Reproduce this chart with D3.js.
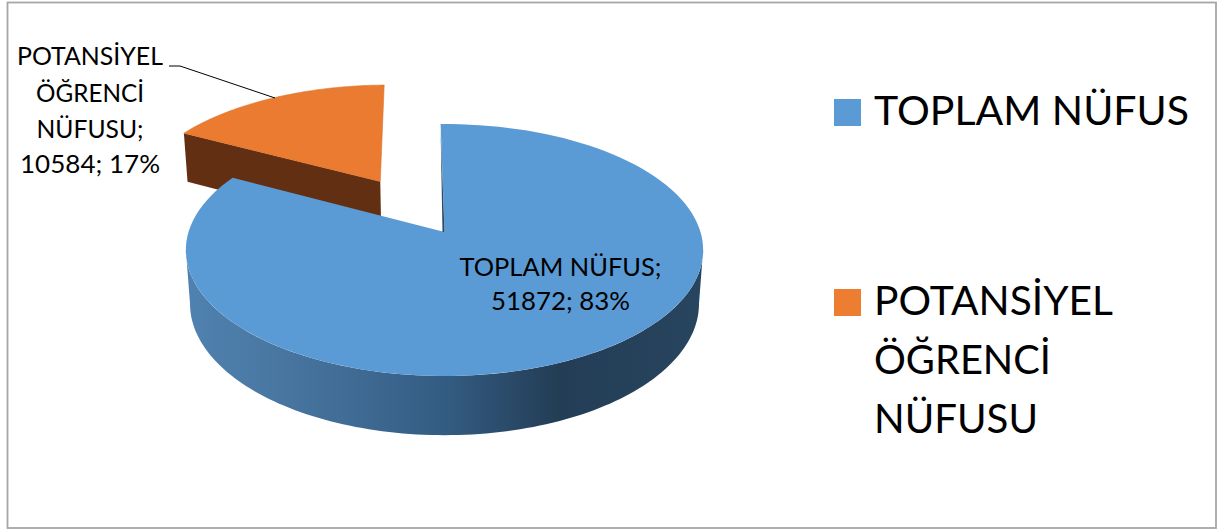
<!DOCTYPE html>
<html><head><meta charset="utf-8">
<script src="https://cdn.jsdelivr.net/npm/d3@7"></script>
<style>html,body{margin:0;padding:0;background:#fff}svg{display:block}text{font-family:Lato,"Open Sans",sans-serif;fill:#000}</style>
</head><body><svg id="c" width="1217" height="529"></svg>
<script>
const categories = ["TOPLAM NÜFUS", "POTANSİYEL ÖĞRENCİ NÜFUSU"];
const values = [51872, 10584];
const percents = [83, 17];
const colors = ["#5b9bd5", "#ed7d31"];
const sideStops = [[0,"#5082b0"],[0.2,"#47759f"],[0.5,"#345c83"],[0.72,"#233d55"],[1,"#28455f"]];
const legendLines = [["TOPLAM NÜFUS"], ["POTANSİYEL","ÖĞRENCİ","NÜFUSU"]];
const calloutLines = ["POTANSİYEL","ÖĞRENCİ","NÜFUSU;","10584; 17%"];
const insideLines = ["TOPLAM NÜFUS;","51872; 83%"];

const svg = d3.select("#c");
svg.append("rect").attr("x",7.5).attr("y",2.5).attr("width",1208.5).attr("height",525.5)
  .attr("fill","#fff").attr("stroke","#a6a6a6").attr("stroke-width",1.8);

const W0 = -1*Math.PI/180;
const slices = d3.pie().sort(null).startAngle(W0).endAngle(W0+2*Math.PI)(values);

// perspective projection of the tilted disc
const cx=444.5, cy=232, a=256, b=123.4, p=1/7, q=0.016, h=54, explode=0.51;
function proj(u,v,z){const w=1-p*v+q*z;return [cx+a*u/w, cy+(b*v+h*z)/w];}
function rim(t,off,z){return proj(off[0]+Math.sin(t),off[1]-Math.cos(t),z);}
const line=d3.line();
const samples=(t0,t1)=>d3.range(0,121).map(i=>t0+(t1-t0)*i/120);

const defs=svg.append("defs");
const grad=defs.append("linearGradient").attr("id","side").attr("gradientUnits","userSpaceOnUse")
  .attr("x1",186).attr("x2",703).attr("y1",0).attr("y2",0);
sideStops.forEach(s=>grad.append("stop").attr("offset",s[0]).attr("stop-color",s[1]));

// orange exploded slice
const so=slices[1], mid=(so.startAngle+so.endAngle)/2;
const off=[explode*Math.sin(mid),-explode*Math.cos(mid)];
svg.append("path").attr("fill","#622f12").attr("d",line([
  rim(so.startAngle,off,0),proj(off[0],off[1],0),proj(off[0],off[1],1),rim(so.startAngle,off,1)])+"Z");
svg.append("path").attr("fill","#ea7b30").attr("stroke","#d9752f").attr("stroke-width",0.6).attr("d",line([
  proj(off[0],off[1],0),...samples(so.startAngle,so.endAngle).map(t=>rim(t,off,0))])+"Z");

// blue main slice
const sb=slices[0], zero=[0,0];
const front=samples(98*Math.PI/180,262*Math.PI/180);
svg.append("path").attr("fill","url(#side)").attr("d",line([
  ...front.map(t=>rim(t,zero,0)),...front.slice().reverse().map(t=>rim(t,zero,1))])+"Z");
svg.append("path").attr("fill",colors[0]).attr("d",line([
  proj(0,0,0),...samples(sb.startAngle,sb.endAngle).map(t=>rim(t,zero,0))])+"Z");
// dark sliver on the start edge
const edgeTop=rim(sb.startAngle,zero,0), apex=proj(0,0,0);
svg.append("path").attr("fill","#2b4a66").attr("d",line([
  [edgeTop[0],edgeTop[1]+6],apex,[apex[0]-2,apex[1]]])+"Z");

// leader line
svg.append("path").attr("fill","none").attr("stroke","#000").attr("stroke-width",1)
  .attr("d",line([[169,66],[180,66],[275,98]]));

// text helper: keeps the width of the reference's font
function txt(str,x,y,size,len,anchor){
  const t=svg.append("text").attr("x",x).attr("y",y).attr("font-size",size)
    .attr("text-anchor",anchor||"start").text(str);
  if(len) t.attr("textLength",len).attr("lengthAdjust","spacingAndGlyphs");
  return t;
}
// callout label
const calloutBase=[65,102,138,173], calloutLen=[146,108,107,140];
calloutLines.forEach((s,i)=>txt(s,90,calloutBase[i],24.5,calloutLen[i],"middle"));
// inside label
const insideBase=[276,310], insideLen=[202,139];
insideLines.forEach((s,i)=>txt(s,560.5,insideBase[i],24.5,insideLen[i],"middle"));

// legend
const legendY=[99,289], legendBase=[[125],[315,374,433]], legendLen=[[315],[239,177,164]];
categories.forEach((c,i)=>{
  svg.append("rect").attr("x",834).attr("y",legendY[i]).attr("width",27).attr("height",27).attr("fill",colors[i]);
  legendLines[i].forEach((s,j)=>txt(s,874,legendBase[i][j],40,legendLen[i][j]));
});
</script></body></html>
